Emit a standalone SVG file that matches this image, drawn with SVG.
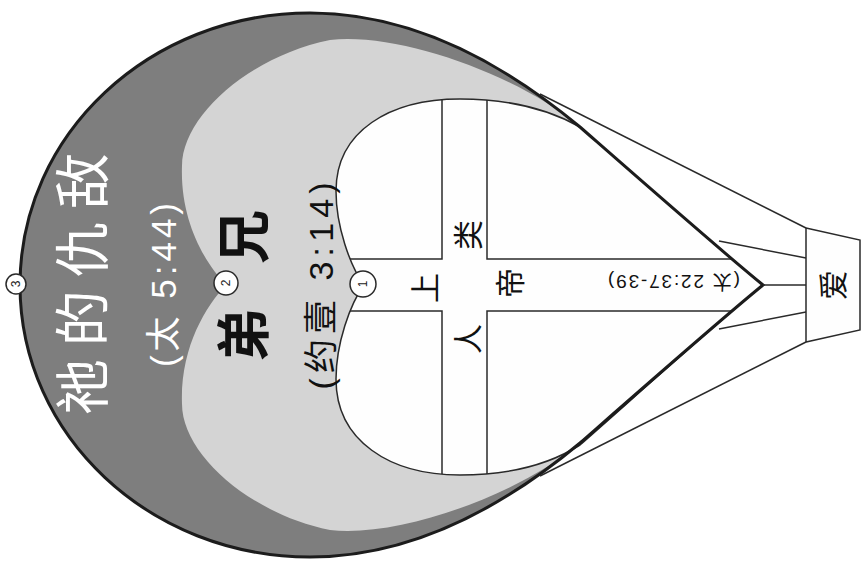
<svg xmlns="http://www.w3.org/2000/svg" width="861" height="562" viewBox="0 0 861 562">
<style>
.txt{font-family:"Liberation Sans","Noto Sans CJK SC",sans-serif;text-anchor:middle;dominant-baseline:central}
.thin{fill:none;stroke:#2a2a2a;stroke-width:1.5}
.num{font-family:"Liberation Sans",sans-serif;font-size:12px;text-anchor:middle;dominant-baseline:central;fill:#222}
.badge{fill:#fff;stroke:#2a2a2a;stroke-width:1.5}
</style>
<defs>
<clipPath id="heartClip">
<path d="M364,285 C350,266 336,226 336,191 C336,131 390,99 460,99 C510,99 550,110 580,127 C620,162 720,250 763,285 C720,320 620,410 580,445 C550,464 510,475 460,475 C390,475 336,441 336,379 C336,344 350,304 364,285 Z"/>
</clipPath>
</defs>
<rect width="861" height="562" fill="#ffffff"/>
<g id="balloon">
<path id="outer" d="M763,285 C720,250 620,162 580,127 C507,66 415,13 310,13 C150,13 20,134 20,285 C20,436 150,557 310,557 C415,557 507,504 580,443 C620,408 720,320 763,285 Z" fill="#7e7e7e"/>
<path id="middle" d="M226,285 C205,263 180,221 182,166 C182,116 250,56 330,40 C400,32 520,76 580,127 C620,162 720,250 763,285 C720,320 620,408 580,443 C520,494 400,538 330,530 C250,514 182,454 182,404 C180,349 205,307 226,285 Z" fill="#d4d4d4"/>
<path id="heart" d="M364,285 C350,266 336,226 336,191 C336,131 390,99 460,99 C510,99 550,110 580,127 C620,162 720,250 763,285 C720,320 620,410 580,445 C550,464 510,475 460,475 C390,475 336,441 336,379 C336,344 350,304 364,285 Z" fill="#fefefe" stroke="#2a2a2a" stroke-width="1.5"/>
<g id="cross" clip-path="url(#heartClip)" class="thin">
<path d="M442,80 V259 H330"/>
<path d="M487,80 V259 H780"/>
<path d="M442,490 V311 H330"/>
<path d="M487,490 V311 H780"/>
</g>
<path id="outline" d="M763,285 C720,250 620,162 580,127 C507,66 415,13 310,13 C150,13 20,134 20,285 C20,436 150,557 310,557 C415,557 507,504 580,443 C620,408 720,320 763,285 Z" fill="none" stroke="#1c1c1c" stroke-width="3"/>
</g>
<g id="connectors" class="thin">
<path d="M540,94 Q650,150 806,228"/>
<path d="M540,476 Q650,420 806,342"/>
<path d="M719,241 L806,258"/>
<path d="M719,329 L806,312"/>
<path d="M763,285 L806,285"/>
</g>
<g id="basket">
<polygon points="806,228 860,240 860,330 806,342" fill="#fefefe" stroke="#2a2a2a" stroke-width="1.5"/>
<text class="txt" x="833" y="285" font-size="30" fill="#111" transform="rotate(-90 833 285)">爱</text>
</g>
<g id="labels">
<text class="txt" x="83" y="284" font-size="56" fill="#ffffff" textLength="262" lengthAdjust="spacing" transform="rotate(-90 83 284)">祂的仇敌</text>
<text class="txt" x="163" y="285" font-size="35" fill="#ffffff" textLength="164" lengthAdjust="spacing" transform="rotate(-90 163 285)">(太 5:44)</text>
<text class="txt" x="245" y="286" font-size="54" font-weight="700" fill="#111" textLength="152" lengthAdjust="spacing" transform="rotate(-90 245 286)">弟兄</text>
<text class="txt" x="321" y="286" font-size="34" fill="#111" textLength="207" lengthAdjust="spacing" transform="rotate(-90 321 286)">(约壹 3:14)</text>
<text class="txt" x="425" y="288" font-size="30" fill="#111" transform="rotate(-90 425 288)">上</text>
<text class="txt" x="510" y="283" font-size="30" fill="#111" transform="rotate(-90 510 283)">帝</text>
<text class="txt" x="468" y="287" font-size="30" fill="#111" textLength="134" lengthAdjust="spacing" transform="rotate(-90 468 287)">人类</text>
<text class="txt" x="674" y="281" font-size="19" fill="#111" textLength="132" lengthAdjust="spacing" transform="rotate(180 674 281)">(太 22:37-39)</text>
</g>
<g id="badge3"><circle class="badge" cx="16" cy="284" r="10"/><text class="num" x="16" y="284" transform="rotate(-90 16 284)">3</text></g>
<g id="badge2"><circle class="badge" cx="226" cy="283" r="12"/><text class="num" x="226" y="283" transform="rotate(-90 226 283)">2</text></g>
<g id="badge1"><circle class="badge" cx="363" cy="284" r="13"/><text class="num" x="363" y="284" transform="rotate(-90 363 284)">1</text></g>
</svg>
